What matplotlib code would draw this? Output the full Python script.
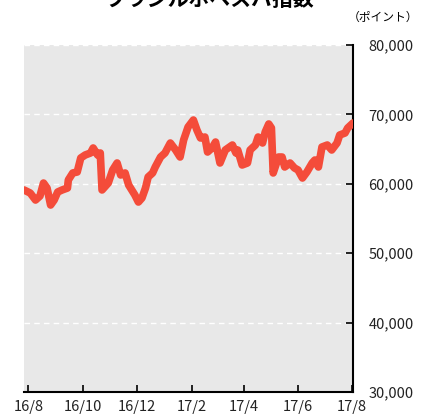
import matplotlib
matplotlib.use("Agg")
import matplotlib.pyplot as plt
import pandas as pd

plt.rcParams['font.family'] = ['Noto Sans CJK JP', 'DejaVu Sans']

# ブラジル ボベスパ指数
dates = ["2016-07-27", "2016-08-03", "2016-08-09", "2016-08-14", "2016-08-18", "2016-08-22",
         "2016-08-26", "2016-08-30", "2016-09-03", "2016-09-08", "2016-09-14", "2016-09-15",
         "2016-09-20", "2016-09-25", "2016-09-29", "2016-10-04", "2016-10-10", "2016-10-13",
         "2016-10-18", "2016-10-21", "2016-10-23", "2016-10-30", "2016-11-04", "2016-11-09",
         "2016-11-13", "2016-11-18", "2016-11-22", "2016-11-29", "2016-12-03", "2016-12-07",
         "2016-12-11", "2016-12-14", "2016-12-19", "2016-12-22", "2016-12-28", "2017-01-02",
         "2017-01-08", "2017-01-14", "2017-01-19", "2017-01-23", "2017-01-28", "2017-02-03",
         "2017-02-07", "2017-02-11", "2017-02-16", "2017-02-19", "2017-02-24", "2017-02-28",
         "2017-03-05", "2017-03-11", "2017-03-19", "2017-03-23", "2017-03-25", "2017-03-30",
         "2017-04-05", "2017-04-08", "2017-04-14", "2017-04-17", "2017-04-22", "2017-04-25",
         "2017-04-29", "2017-05-02", "2017-05-04", "2017-05-10", "2017-05-14", "2017-05-17",
         "2017-05-23", "2017-05-28", "2017-06-01", "2017-06-06", "2017-06-11", "2017-06-17",
         "2017-06-20", "2017-06-24", "2017-06-28", "2017-07-04", "2017-07-09", "2017-07-15",
         "2017-07-18", "2017-07-24", "2017-07-27", "2017-08-02"]
values = [59110, 58670, 57660, 58240, 60110, 59390,
          56940, 57660, 58820, 59110, 59390, 60550,
          61560, 61700, 63720, 64150, 64440, 65160,
          64150, 64440, 59110, 60110, 61990, 63000,
          61270, 61560, 59830, 58390, 57370, 57950,
          59390, 60980, 61560, 62420, 63860, 64440,
          65880, 64870, 63860, 66310, 68180, 69190,
          67750, 66600, 66740, 64580, 65160, 66020,
          63000, 64870, 65590, 64440, 64870, 62710,
          63000, 64870, 65590, 66740, 65880, 67460,
          68620, 68040, 61560, 63860, 63860, 62420,
          63000, 62280, 61990, 60830, 61700, 63000,
          63430, 62420, 65300, 65590, 64870, 65880,
          67030, 67320, 68040, 68760]

tick_dates = ["2016-08-01", "2016-10-01", "2016-12-01", "2017-02-01",
              "2017-04-01", "2017-06-01", "2017-08-01"]
tick_labels = ["16/8", "16/10", "16/12", "17/2", "17/4", "17/6", "17/8"]
y_ticks = [30000, 40000, 50000, 60000, 70000, 80000]

dates = pd.to_datetime(dates)

fig = plt.figure(figsize=(4.23, 4.15), dpi=100)
ax = fig.add_axes([24 / 423, 23 / 415, 329 / 423, 347 / 415])
ax.set_facecolor('#e8e8e8')

ax.plot(dates, values, color='#f44c3a', linewidth=5.5, solid_capstyle='round',
        solid_joinstyle='round', zorder=3)

ax.set_xlim(pd.Timestamp("2016-07-27"), pd.Timestamp("2017-08-02"))
ax.set_ylim(30000, 80000)

ax.set_xticks(pd.to_datetime(tick_dates))
ax.set_xticklabels(tick_labels)
ax.set_yticks(y_ticks)
ax.set_yticklabels([f"{v:,}" for v in y_ticks])

ax.yaxis.tick_right()
ax.tick_params(axis='x', direction='in', length=5, width=1.2, pad=6, labelsize=10.5,
               labelcolor='#222222', color='black')
ax.tick_params(axis='y', direction='in', length=5, width=1.2, pad=11, labelsize=10.5,
               labelcolor='#222222', color='black')

ax.grid(axis='y', color='white', linestyle=(0, (4, 3)), linewidth=1)
ax.set_axisbelow(True)

for side in ['left', 'top']:
    ax.spines[side].set_visible(False)
ax.spines['right'].set_linewidth(1.5)
ax.spines['bottom'].set_linewidth(1.5)

# title is clipped by the top edge in the original as well
fig.text(210 / 423, 1 - 6 / 415, "ブラジルボベスパ指数", ha='center', va='baseline',
         fontsize=15, fontweight='bold')
fig.text(418 / 423, 1 - 17 / 415, "（ポイント）", ha='right', va='center', fontsize=8.5)

fig.savefig('out.png', dpi=100)
